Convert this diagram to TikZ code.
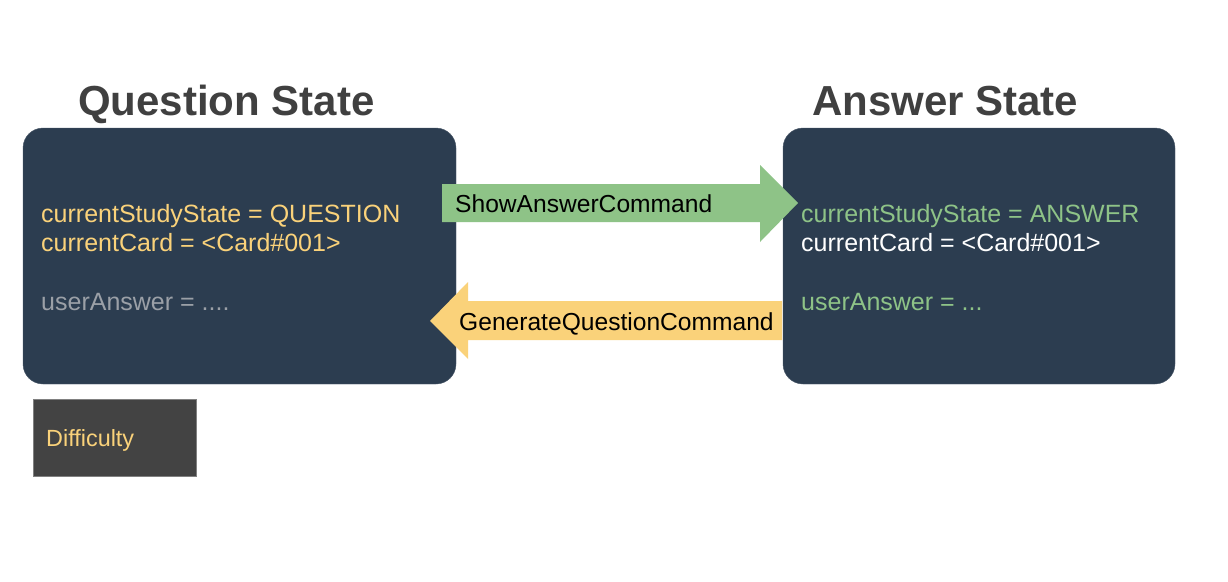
\documentclass[tikz,border=0pt]{standalone}
\usepackage{fontspec}
\setmainfont{Liberation Sans}
\usetikzlibrary{positioning}
\definecolor{statenavy}{RGB}{44,61,80}
\definecolor{stateyellow}{RGB}{250,210,122}
\definecolor{stategreen}{RGB}{142,195,135}
\definecolor{stategrey}{RGB}{155,160,167}
\definecolor{titlegrey}{RGB}{64,64,64}
\definecolor{darkbox}{RGB}{67,67,67}

\tikzset{
  statebox/.style={fill=statenavy, draw=statenavy!85!white, rounded corners=20pt, inner sep=0pt},
  titletext/.style={text=titlegrey, font=\fontsize{42}{48}\selectfont\bfseries, anchor=base west, inner sep=0pt},
  fieldtext/.style={font=\fontsize{25}{29}\selectfont, anchor=base west, inner sep=0pt},
  cmdtext/.style={text=black, font=\fontsize{24.6}{29}\selectfont, anchor=base west, inner sep=0pt}
}

\begin{document}
\begin{tikzpicture}[x=1pt, y=-1pt]
    \useasboundingbox[fill=white] (0,0) rectangle (1228,581);

    % the two states
    \node[statebox, minimum width=433pt, minimum height=256pt] (qbox) at (239.5,256) {};
    \node[statebox, minimum width=392pt, minimum height=256pt] (abox) at (979,256) {};

    \node[titletext] (qtitle) at (78,115) {Question State};
    \node[titletext] (atitle) at (812,115) {Answer State};

    % fields of the question state
    \node[fieldtext, text=stateyellow] (qstudy)  at (41,222) {currentStudyState = QUESTION};
    \node[fieldtext, text=stateyellow] (qcard)   at (41,251) {currentCard = <Card\#001>};
    \node[fieldtext, text=stategrey]   (qanswer) at (41,310) {userAnswer = ....};

    % fields of the answer state
    \node[fieldtext, text=stategreen] (astudy)  at (801,222) {currentStudyState = ANSWER};
    \node[fieldtext, text=white]      (acard)   at (801,251) {currentCard = <Card\#001>};
    \node[fieldtext, text=stategreen] (aanswer) at (801,310) {userAnswer = ...};

    % commands
    \fill[stategreen] (442,184) -- (760,184) -- (760,165) -- (798,203)
        -- (760,242) -- (760,222) -- (442,222) -- cycle;
    \node[cmdtext] (showcmd) at (455,212) {ShowAnswerCommand};

    \fill[stateyellow] (782,301) -- (468,301) -- (468,282) -- (430,321)
        -- (468,359) -- (468,340) -- (782,340) -- cycle;
    \node[cmdtext] (gencmd) at (459,330) {GenerateQuestionCommand};

    % difficulty
    \node[fill=darkbox, draw=gray, minimum width=163pt, minimum height=77pt, inner sep=0pt] (diffbox) at (114.5,437.5) {};
    \node[fieldtext, text=stateyellow, font=\fontsize{23.4}{28}\selectfont] (difftext) at (46,446) {Difficulty};
\end{tikzpicture}
\end{document}
